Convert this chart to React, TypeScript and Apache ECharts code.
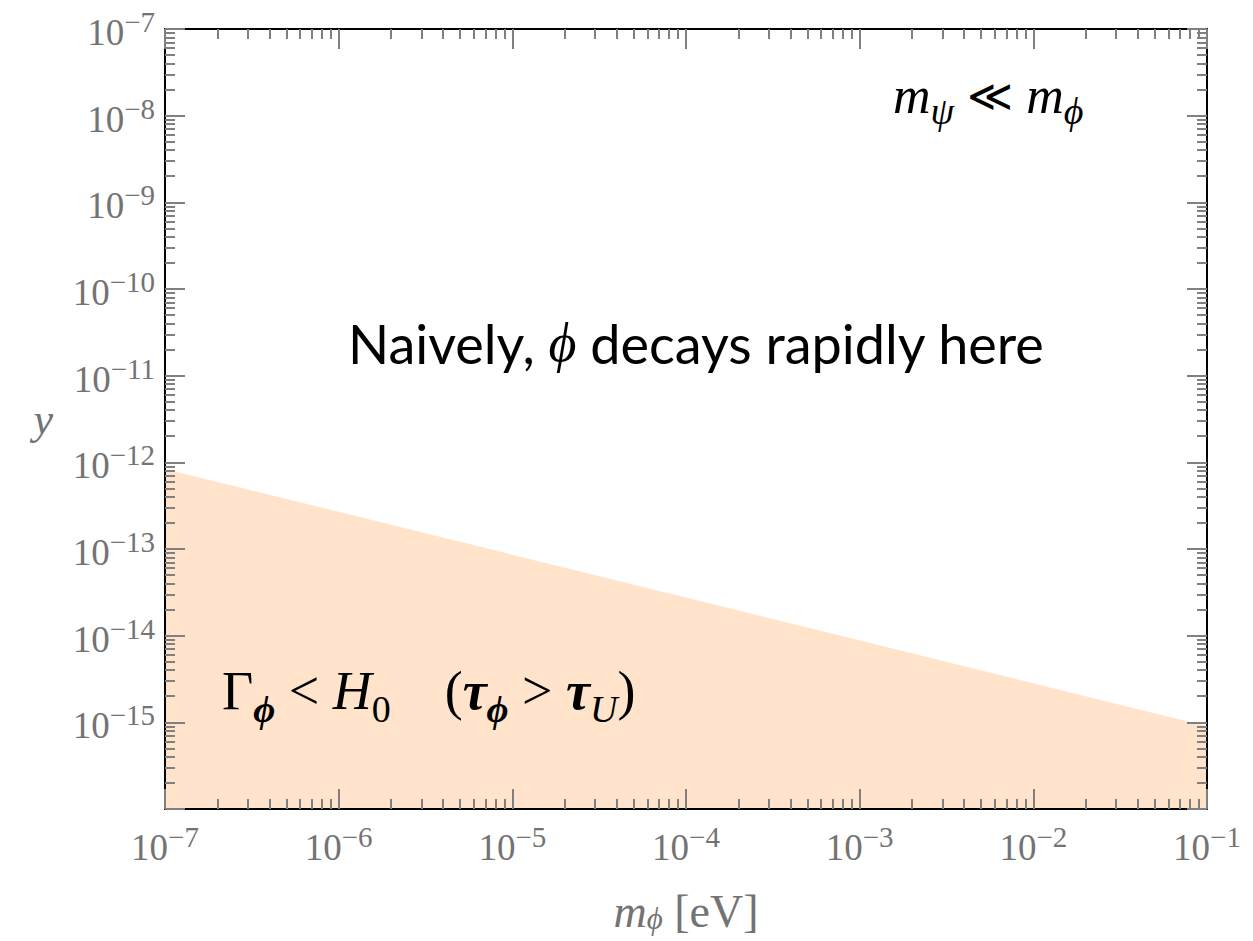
import React, { useEffect, useRef } from "react";
import * as echarts from "echarts";

// ---- data ----
const X_MIN = 1e-7;
const X_MAX = 1e-1;
const Y_MIN = 1e-16;
const Y_MAX = 1e-7;
const xDecades = [-7, -6, -5, -4, -3, -2, -1];
const yDecades = [-16, -15, -14, -13, -12, -11, -10, -9, -8, -7];
const minorMultipliers = [2, 3, 4, 5, 6, 7, 8, 9];
// boundary of the shaded region (Gamma_phi < H_0)
const boundaryMass = [1e-7, 1e-1];
const boundaryCoupling = [8.4e-13, 9.0e-16];

const FILL = "#ffe4cb";
const AXIS_GRAY = "#737373";
const TICK_GRAY = "#808080";
const SERIF = "'Liberation Serif', 'Times New Roman', serif";
const SANS = "Lato, 'Noto Sans', sans-serif";

function minorLogValues(decades: number[]): number[] {
  const out: number[] = [];
  for (let i = 0; i < decades.length - 1; i++) {
    for (const k of minorMultipliers) out.push(decades[i] + Math.log10(k));
  }
  return out;
}

const tickRich = {
  b: { fontSize: 37, fontFamily: SERIF, color: AXIS_GRAY, lineHeight: 50 },
  s: { fontSize: 29, fontFamily: SERIF, color: AXIS_GRAY, lineHeight: 29, verticalAlign: "top" },
};

function powLabel(v: number, hideExp?: number): string {
  const e = Math.round(Math.log10(v));
  if (hideExp !== undefined && e === hideExp) return "";
  return `{b|10}{s|\u2212${-e}}`;
}

const frameLine = { show: true, lineStyle: { color: "#000", width: 2 } };
const majorTick = { show: true, inside: true, length: 20, lineStyle: { color: TICK_GRAY, width: 2 } };

const K = "#000";

export default function App() {
  const ref = useRef<HTMLDivElement>(null);
  useEffect(() => {
    if (!ref.current) return;
    const chart = echarts.init(ref.current, undefined, { renderer: "svg" });
    const xMinor = minorLogValues(xDecades);
    const yMinor = minorLogValues(yDecades);
    const minorTick = (vals: number[]) => ({
      show: true,
      inside: true,
      length: 10,
      customValues: vals,
      lineStyle: { color: TICK_GRAY, width: 2 },
    });
    const option: any = {
      animation: false,
      backgroundColor: "#fff",
      grid: { left: 165, right: 46, top: 29, bottom: 132, containLabel: false, outerBoundsMode: "none" },
      xAxis: [
        {
          type: "log",
          logBase: 10,
          min: X_MIN,
          max: X_MAX,
          splitNumber: 6,
          position: "bottom",
          z: 5,
          axisLine: frameLine,
          axisTick: majorTick,
          splitLine: { show: false },
          axisLabel: {
            margin: 13,
            formatter: (v: number) => powLabel(v),
            rich: tickRich,
          },
          name: "{i|m}{sub|\u03d5}{r| [eV]}",
          nameLocation: "middle",
          nameGap: 79,
          nameTextStyle: {
            rich: {
              i: { fontSize: 46, fontFamily: SERIF, fontStyle: "italic", color: AXIS_GRAY, lineHeight: 46 },
              sub: { fontSize: 31, fontFamily: SERIF, fontStyle: "italic", color: AXIS_GRAY, lineHeight: 24, verticalAlign: "bottom" },
              r: { fontSize: 46, fontFamily: SERIF, color: AXIS_GRAY, lineHeight: 46 },
            },
          },
        },
        {
          type: "log",
          logBase: 10,
          min: X_MIN,
          max: X_MAX,
          splitNumber: 6,
          position: "top",
          z: 5,
          axisLine: frameLine,
          axisTick: majorTick,
          axisLabel: { show: false },
          splitLine: { show: false },
        },
        {
          type: "value",
          min: xDecades[0],
          max: xDecades[xDecades.length - 1],
          position: "bottom",
          z: 5,
          axisLine: { show: false },
          axisTick: minorTick(xMinor),
          axisLabel: { show: false },
          splitLine: { show: false },
        },
        {
          type: "value",
          min: xDecades[0],
          max: xDecades[xDecades.length - 1],
          position: "top",
          z: 5,
          axisLine: { show: false },
          axisTick: minorTick(xMinor),
          axisLabel: { show: false },
          splitLine: { show: false },
        },
      ],
      yAxis: [
        {
          type: "log",
          logBase: 10,
          min: Y_MIN,
          max: Y_MAX,
          splitNumber: 9,
          position: "left",
          z: 5,
          axisLine: frameLine,
          axisTick: majorTick,
          splitLine: { show: false },
          axisLabel: {
            margin: 10,
            padding: [7, 0, 0, 0],
            formatter: (v: number) => powLabel(v, -16),
            rich: tickRich,
          },
          name: "y",
          nameLocation: "middle",
          nameRotate: 0,
          nameGap: 112,
          nameTextStyle: {
            fontSize: 44,
            fontFamily: SERIF,
            fontStyle: "italic",
            color: AXIS_GRAY,
            padding: [6, 0, 0, 0],
          },
        },
        {
          type: "log",
          logBase: 10,
          min: Y_MIN,
          max: Y_MAX,
          splitNumber: 9,
          position: "right",
          z: 5,
          axisLine: frameLine,
          axisTick: majorTick,
          axisLabel: { show: false },
          splitLine: { show: false },
        },
        {
          type: "value",
          min: yDecades[0],
          max: yDecades[yDecades.length - 1],
          position: "left",
          z: 5,
          axisLine: { show: false },
          axisTick: minorTick(yMinor),
          axisLabel: { show: false },
          splitLine: { show: false },
        },
        {
          type: "value",
          min: yDecades[0],
          max: yDecades[yDecades.length - 1],
          position: "right",
          z: 5,
          axisLine: { show: false },
          axisTick: minorTick(yMinor),
          axisLabel: { show: false },
          splitLine: { show: false },
        },
      ],
      series: [
        {
          type: "line",
          name: "Gamma_phi < H_0",
          xAxisIndex: 0,
          yAxisIndex: 0,
          data: boundaryMass.map((m, i) => [m, boundaryCoupling[i]]),
          symbol: "none",
          showSymbol: false,
          silent: true,
          z: 1,
          lineStyle: { width: 0, color: FILL },
          areaStyle: { color: FILL, opacity: 1, origin: "start" },
        },
      ],
      graphic: [
        {
          type: "text",
          left: 348,
          top: 316,
          z: 10,
          style: {
            text: "{a|Naively, }{p|\u03d5}{a| decays rapidly here}",
            rich: {
              a: { fontSize: 54, fontFamily: SANS, fill: K, color: K, lineHeight: 60 },
              p: { fontSize: 54, fontFamily: SERIF, fontStyle: "italic", fill: K, color: K, lineHeight: 60 },
            },
          },
        },
        {
          type: "text",
          left: 893,
          top: 69,
          z: 10,
          style: {
            text: "{i|m}{sub|\u03c8}{r| }{ll|\u226a}{r| }{i|m}{sub|\u03d5}",
            rich: {
              i: { fontSize: 52, fontFamily: SERIF, fontStyle: "italic", fill: K, color: K, lineHeight: 70 },
              sub: { fontSize: 38, fontFamily: SERIF, fontStyle: "italic", fill: K, color: K, lineHeight: 38, verticalAlign: "bottom" },
              r: { fontSize: 52, fontFamily: SERIF, fill: K, color: K, lineHeight: 70 },
              ll: { fontSize: 44, fontFamily: "'DejaVu Serif', serif", fill: K, color: K, lineHeight: 70 },
            },
          },
        },
        {
          type: "text",
          left: 222,
          top: 664,
          z: 10,
          style: {
            text: "{r|\u0393}{sb|\u03d5}{r| < }{i|H}{sub|0}{r|    (}{bi|\u03c4}{sb|\u03d5}{r| > }{bi|\u03c4}{si|U}{r|)}",
            rich: {
              r: { fontSize: 54, fontFamily: SERIF, fill: K, color: K, lineHeight: 73 },
              i: { fontSize: 54, fontFamily: SERIF, fontStyle: "italic", fill: K, color: K, lineHeight: 73 },
              bi: { fontSize: 54, fontFamily: SERIF, fontStyle: "italic", fontWeight: "bold", fill: K, color: K, lineHeight: 73 },
              sb: { fontSize: 38, fontFamily: SERIF, fontStyle: "italic", fontWeight: "bold", fill: K, color: K, lineHeight: 38, verticalAlign: "bottom" },
              sub: { fontSize: 38, fontFamily: SERIF, fill: K, color: K, lineHeight: 38, verticalAlign: "bottom" },
              si: { fontSize: 38, fontFamily: SERIF, fontStyle: "italic", fill: K, color: K, lineHeight: 38, verticalAlign: "bottom" },
            },
          },
        },
      ],
    };
    chart.setOption(option);
    return () => chart.dispose();
  }, []);
  return (
    <div
      ref={ref}
      style={{ position: "absolute", left: 0, top: 0, width: 1253, height: 941, background: "#fff" }}
    />
  );
}
